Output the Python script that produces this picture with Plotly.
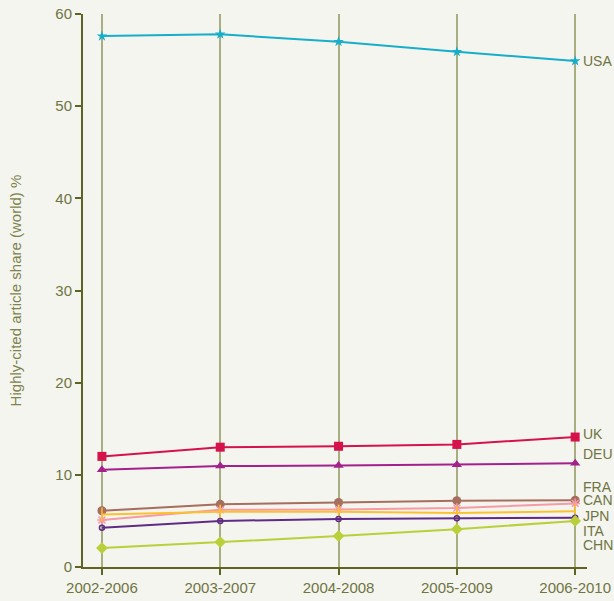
import plotly.graph_objects as go

periods = ["2002-2006", "2003-2007", "2004-2008", "2005-2009", "2006-2010"]
countries = ["USA", "UK", "DEU", "FRA", "CAN", "JPN", "ITA", "CHN"]
usa = [57.6, 57.8, 57.0, 55.9, 54.9]
uk = [12.0, 13.0, 13.1, 13.3, 14.1]
deu = [10.55, 10.95, 11.0, 11.1, 11.25]
fra = [6.1, 6.8, 7.0, 7.2, 7.25]
can = [5.1, 6.2, 6.25, 6.4, 6.9]
jpn = [5.7, 6.0, 6.0, 5.85, 6.05]
ita = [4.25, 5.0, 5.2, 5.3, 5.35]
chn = [2.05, 2.7, 3.35, 4.1, 5.0]
series = [usa, uk, deu, fra, can, jpn, ita, chn]

colors = ["#16aecb", "#d5124b", "#a3208d", "#a56e5e", "#f59aa6", "#fcc12f", "#5f2b86", "#b9d03a"]
symbols = ["star", "square", "triangle-up", "circle", "asterisk-open", "line-ns-open", "circle-open", "diamond"]
msizes = [8, 9, 9, 9, 8, 10, 5, 9]
label_shift = [0, 3, 9, 13, 3, -5, -13, -24]

TXT = "#6e7442"
fig = go.Figure()
for i, (name, vals, c, s, ms) in enumerate(zip(countries, series, colors, symbols, msizes)):
    mk = dict(color=c, symbol=s, size=ms)
    if s.endswith("-open"):
        mk["line"] = dict(color=c, width=1.5)
    fig.add_trace(go.Scatter(x=list(range(len(periods))), y=vals, mode="lines+markers",
                             line=dict(color=c, width=2), marker=mk, name=name,
                             showlegend=False, cliponaxis=False))
    fig.add_annotation(x=len(periods) - 1, y=vals[-1], text=name, showarrow=False,
                       xanchor="left", yanchor="middle", xshift=6, yshift=label_shift[i],
                       font=dict(family="Liberation Sans", size=14, color=TXT))

fig.update_layout(
    width=614, height=601, autosize=False,
    margin=dict(l=83, r=27, t=14, b=34, autoexpand=False),
    paper_bgcolor="#f5f5ef", plot_bgcolor="#f5f5ef",
    font=dict(family="Liberation Sans", size=15, color=TXT),
    xaxis=dict(range=[-0.16, 4.1], tickvals=list(range(len(periods))), ticktext=periods,
               showgrid=True, gridcolor="#a9ad82", gridwidth=2,
               showline=True, linecolor="#5d6424", linewidth=2,
               ticks="outside", ticklen=6, tickcolor="#5d6424", tickwidth=2,
               zeroline=False, automargin=False, tickfont=dict(size=15, color=TXT)),
    yaxis=dict(range=[0, 60], tickvals=[0, 10, 20, 30, 40, 50, 60],
               showgrid=False, showline=True, linecolor="#5d6424", linewidth=2,
               ticks="outside", ticklen=6, tickcolor="#5d6424", tickwidth=2,
               zeroline=False, automargin=False, tickfont=dict(size=15, color=TXT),
               title=dict(text="Highly-cited article share (world) %", standoff=30,
                          font=dict(size=15, color="#7d8450"))),
)
fig.write_html("out.html", config={"displayModeBar": False},
               post_script="document.body.style.margin='0';document.body.style.overflow='hidden';")
